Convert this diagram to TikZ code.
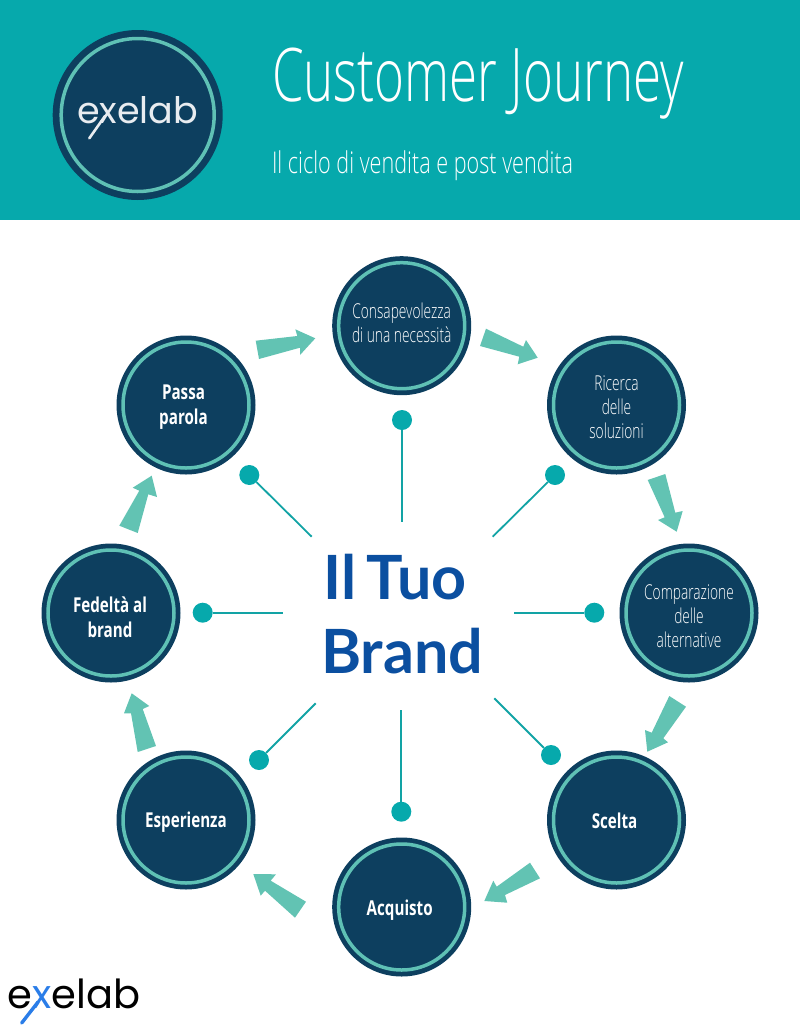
\documentclass[tikz,border=0pt]{standalone}
\usepackage{fontspec}
\newfontfamily\oslight[FakeStretch=.72]{Open Sans Light}
\newfontfamily\ostitle[FakeStretch=.69]{Open Sans Light}
\newfontfamily\osthin[FakeStretch=.67]{Open Sans Light}
\newfontfamily\oscond[FakeStretch=.74]{Open Sans}
\newfontfamily\logofont{Poppins}
\newfontfamily\brandfont{Lato}
\definecolor{headteal}{HTML}{06A9AC}
\definecolor{navy}{HTML}{0D3F5F}
\definecolor{ringc}{HTML}{5FC1B5}
\definecolor{arrowc}{HTML}{62C3B3}
\definecolor{spokec}{HTML}{12A3A5}
\definecolor{brandblue}{HTML}{0B4FA0}
\definecolor{logoblue}{HTML}{2A7DE8}
\definecolor{logowhite}{HTML}{E8ECF0}
% places the lines of a stage: #1 = shift right, #2 = shift down, #3 = the lines
\newcommand{\stagelines}[3]{\raisebox{\dimexpr -5pt-#2pt\relax}[0pt][0pt]{\makebox[0pt]{\kern\dimexpr #1pt+#1pt\relax\parbox[c]{124pt}{\centering #3}}}}
\tikzset{
  stage/.style={circle,fill=navy,minimum size=139pt,inner sep=0pt,text=white,
    path picture={\draw[ringc,line width=3.5pt] (path picture bounding box.center) circle (63pt);}},
  thinstage/.style={stage,font=\osthin\fontsize{20.5}{24}\selectfont},
  boldstage/.style={stage,font=\oscond\bfseries\fontsize{20.5}{25}\selectfont},
  pin/.style={circle,fill=headteal,minimum size=20pt,inner sep=0pt},
  spoke/.style={spokec,line width=1.8pt},
  flow/.style={fill=arrowc,draw=none},
  plain/.style={inner sep=0pt,outer sep=0pt},
}
\begin{document}
\begin{tikzpicture}[x=1pt,y=-1pt]
\useasboundingbox (0,0) rectangle (800,1034);
\fill[headteal] (0,0) rectangle (800,220);
% header logo
\node[circle,fill=navy,minimum size=170pt,inner sep=0pt,
  path picture={\draw[ringc,line width=3.5pt] (path picture bounding box.center) circle (76.5pt);}] (badge) at (137.7,115) {};
\node[plain,anchor=base west,text=logowhite,font=\logofont\fontsize{36.5}{36}\selectfont] (badgetext) at (77,123.5) {exelab};
\coordinate (badgetail) at (89.3,138.3);
\coordinate (badgecross) at (105,116);
\draw[logowhite,line width=2.6pt,line cap=round] (badgecross) -- (badgetail);
% title
\node[plain,anchor=base west,text=white,font=\ostitle\fontsize{74}{74}\selectfont] (title) at (272,101) {Customer Journey};
\node[plain,anchor=base west,text=white,font=\oslight\fontsize{30}{30}\selectfont] (subtitle) at (272,173) {Il ciclo di vendita e post vendita};
% stages
\node[thinstage] (s1) at (401.7,325.7) {\stagelines{0}{-2.7}{Consapevolezza\\di una necessità}};
\node[thinstage] (s2) at (616.5,405) {\stagelines{0}{2}{Ricerca\\delle\\soluzioni}};
\node[thinstage] (s3) at (689,613) {\stagelines{0}{3}{Comparazione\\delle\\alternative}};
\node[boldstage] (s4) at (616.5,820) {\stagelines{-2}{1}{Scelta}};
\node[boldstage] (s5) at (401.7,907) {\stagelines{-2}{3}{Acquisto}};
\node[boldstage] (s6) at (186,820) {\stagelines{0}{2}{Esperienza}};
\node[boldstage] (s7) at (111,613) {\stagelines{-1}{4.5}{Fedeltà al\\brand}};
\node[boldstage] (s8) at (186,405) {\stagelines{-2.5}{2.5}{Passa\\parola}};
% hub
\node[plain,text=brandblue,align=center,font=\brandfont\bfseries\fontsize{61}{74}\selectfont] (hub) at (402,614) {Il\hspace{.16em}Tuo\hspace*{14pt}\\Brand};
% spokes
\node[pin] (p1) at (402,420) {};      \coordinate (e1) at (402,522);
\node[pin] (p2) at (555,475) {};      \coordinate (e2) at (492.7,536.7);
\node[pin] (p3) at (594.3,612.7) {};  \coordinate (e3) at (514.3,612.7);
\node[pin] (p4) at (551,755) {};      \coordinate (e4) at (494.3,698.3);
\node[pin] (p5) at (401.3,811.7) {};  \coordinate (e5) at (401.3,710);
\node[pin] (p6) at (259,760) {};      \coordinate (e6) at (315.7,703.3);
\node[pin] (p7) at (202.7,612.7) {};  \coordinate (e7) at (282.7,612.7);
\node[pin] (p8) at (249.3,475) {};    \coordinate (e8) at (311.7,536.7);
\foreach \i in {1,...,8} \draw[spoke] (p\i) -- (e\i);
% flow arrows
\fill[flow] (255.7,340.7) -- (297.3,336) -- (295.3,329.3) -- (315.3,338.3) -- (300,355) -- (300,347.7) -- (259,359) -- cycle;
\fill[flow] (486,328.7) -- (523.3,346.7) -- (526,340) -- (537.7,357.7) -- (517.7,364.3) -- (519.3,356.7) -- (480,346) -- cycle;
\fill[flow] (647.7,480) -- (665.3,474) -- (675.3,512.7) -- (682.7,511) -- (676.7,531.7) -- (658,520) -- (664.7,517.3) -- cycle;
\fill[flow] (669.3,696) -- (686,706.7) -- (663.3,738.3) -- (668,742.3) -- (647.3,751.7) -- (645,730) -- (651.7,732.7) -- cycle;
\fill[flow] (530,862.7) -- (540,878.3) -- (505,895) -- (507.3,902.7) -- (484.3,901) -- (493.3,880.7) -- (496.7,886.7) -- cycle;
\fill[flow] (306,901.7) -- (295,917.7) -- (265,890.7) -- (260.7,895.7) -- (253.3,874) -- (276,874.3) -- (270.7,880.7) -- cycle;
\fill[flow] (156,746) -- (137.7,752) -- (131,713.3) -- (124,713.3) -- (131.7,693.3) -- (149.3,706) -- (142.7,709) -- cycle;
\fill[flow] (119.3,525.7) -- (137.7,533) -- (148.3,494.3) -- (157,497) -- (151.7,475.7) -- (132.7,487.7) -- (139.3,490.7) -- cycle;
% footer logo
\node[plain,anchor=base west,text=black,font=\logofont\fontsize{40}{40}\selectfont] (footlogo) at (8,1008) {e\textcolor{logoblue}{x}elab};
\coordinate (foottail) at (21.7,1023);
\coordinate (footcross) at (38,1002);
\draw[logoblue,line width=3.4pt,line cap=round] (footcross) -- (foottail);
\end{tikzpicture}
\end{document}
